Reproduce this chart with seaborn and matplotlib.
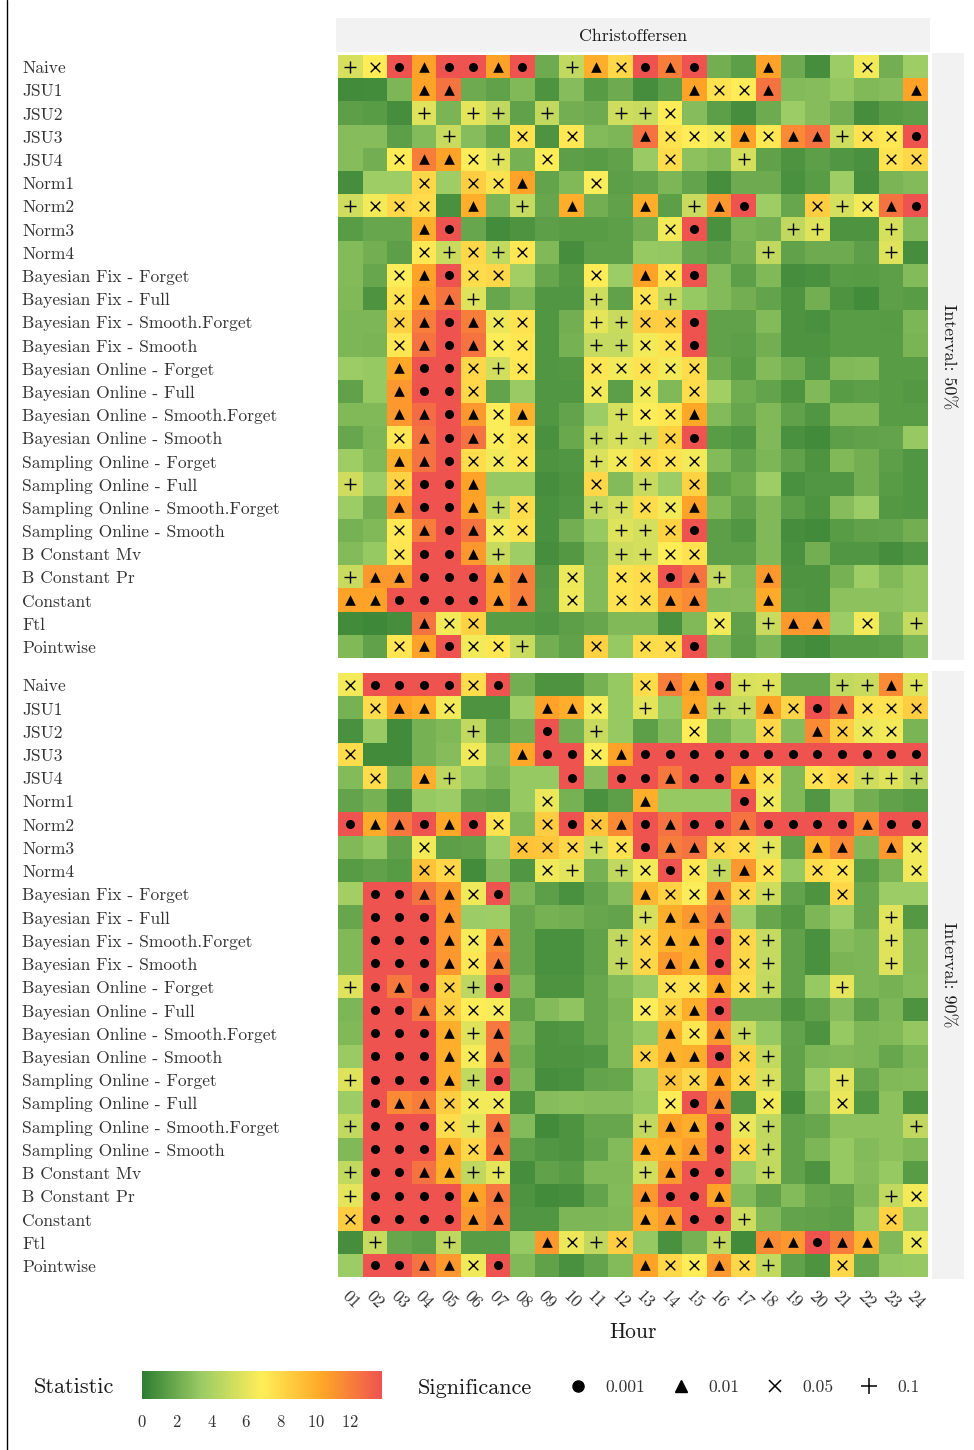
import numpy as np
import pandas as pd
import matplotlib
matplotlib.use("Agg")
import matplotlib.pyplot as plt
import seaborn as sns
from matplotlib.colors import LinearSegmentedColormap, Normalize
from matplotlib.lines import Line2D
from matplotlib.transforms import ScaledTranslation
import matplotlib.cm as cm

sns.set_style("white")
plt.rcParams['font.family'] = ['cmr10', 'DejaVu Serif']
plt.rcParams['axes.unicode_minus'] = False
plt.rcParams['axes.formatter.use_mathtext'] = True

hours = ["01", "02", "03", "04", "05", "06", "07", "08", "09", "10", "11", "12",
         "13", "14", "15", "16", "17", "18", "19", "20", "21", "22", "23", "24"]
methods = ["Naive", "JSU1", "JSU2", "JSU3", "JSU4", "Norm1", "Norm2", "Norm3", "Norm4",
           "Bayesian Fix - Forget", "Bayesian Fix - Full", "Bayesian Fix - Smooth.Forget",
           "Bayesian Fix - Smooth", "Bayesian Online - Forget", "Bayesian Online - Full",
           "Bayesian Online - Smooth.Forget", "Bayesian Online - Smooth",
           "Sampling Online - Forget", "Sampling Online - Full",
           "Sampling Online - Smooth.Forget", "Sampling Online - Smooth",
           "B Constant Mv", "B Constant Pr", "Constant", "Ftl", "Pointwise"]
sig_levels = ["0.001", "0.01", "0.05", "0.1"]
sig_codes = ["o", "^", "x", "+"]

# Christoffersen statistic, interval 50%
stat50 = [
    [5.5, 7.0, 14, 10.5, 14, 14, 10.5, 14, 2.0, 4.8, 10.0, 8.0, 14, 12.0, 14, 2.2, 1.5, 10.5, 2.0, 0.8, 3.5, 6.5, 2.2, 3.6],
    [0.6, 0.7, 2.5, 10.5, 12.5, 2.0, 1.6, 2.6, 1.0, 2.8, 1.3, 2.0, 0.8, 1.5, 10.5, 7.5, 7.0, 12.5, 2.7, 2.8, 3.2, 2.6, 2.8, 10.5],
    [1.5, 1.4, 0.8, 5.8, 2.4, 6.0, 4.7, 1.6, 4.8, 2.2, 2.0, 5.2, 5.0, 7.0, 2.8, 1.5, 0.8, 2.0, 3.5, 2.8, 2.2, 0.8, 1.3, 1.5],
    [2.8, 2.8, 1.5, 2.7, 5.0, 2.8, 1.7, 7.5, 1.0, 7.2, 2.7, 2.5, 12.5, 7.5, 7.0, 6.5, 10.5, 7.2, 11.5, 12.5, 5.2, 7.5, 7.2, 14],
    [2.8, 2.2, 7.0, 12.0, 10.5, 6.8, 5.8, 2.3, 7.0, 1.5, 1.4, 1.6, 3.4, 7.8, 3.0, 2.6, 5.4, 1.6, 1.0, 1.5, 1.1, 0.9, 7.5, 8.0],
    [0.8, 3.6, 3.6, 8.0, 3.6, 8.5, 7.5, 10.5, 1.7, 2.6, 6.8, 1.5, 1.7, 2.5, 1.7, 0.8, 2.0, 2.0, 0.9, 1.4, 3.6, 0.8, 2.4, 2.7],
    [5.2, 6.5, 8.0, 7.8, 0.9, 10.0, 2.4, 4.9, 1.8, 10.0, 2.2, 1.6, 10.0, 1.5, 5.0, 11.0, 14, 3.6, 1.8, 8.5, 5.4, 6.5, 12.5, 14],
    [1.4, 1.8, 1.8, 10.0, 14, 1.8, 0.7, 1.0, 1.5, 1.4, 1.4, 1.5, 2.2, 6.5, 14, 0.9, 2.4, 2.2, 4.7, 5.8, 1.0, 1.0, 5.5, 2.7],
    [2.7, 2.2, 1.5, 7.2, 5.0, 8.0, 4.8, 7.2, 2.6, 0.8, 1.5, 1.5, 3.3, 3.2, 1.8, 1.5, 2.2, 4.7, 1.6, 2.0, 2.0, 1.5, 5.8, 0.8],
    [2.7, 1.8, 6.8, 10.5, 14, 7.8, 8.0, 3.7, 1.8, 1.2, 7.0, 3.5, 10.5, 7.3, 14, 2.7, 1.5, 2.6, 0.8, 0.9, 1.4, 1.3, 1.5, 2.7],
    [2.6, 1.0, 7.5, 10.8, 12.5, 5.8, 1.8, 2.6, 1.1, 1.1, 5.2, 1.6, 7.5, 4.8, 3.3, 2.7, 2.2, 1.7, 1.0, 2.2, 1.0, 0.6, 1.5, 1.4],
    [2.5, 2.5, 8.3, 12.0, 14, 12.0, 6.3, 7.5, 1.1, 2.2, 6.0, 5.0, 8.5, 8.5, 14, 1.6, 1.6, 2.7, 1.0, 0.9, 1.4, 1.4, 1.3, 2.5],
    [2.5, 2.4, 7.3, 12.5, 14, 12.5, 6.8, 7.3, 1.1, 2.3, 4.9, 4.9, 6.5, 7.5, 14, 1.6, 1.5, 2.2, 1.0, 1.0, 1.4, 1.4, 1.4, 2.4],
    [3.5, 3.3, 10.3, 14, 14, 8.0, 5.3, 7.3, 1.1, 1.2, 7.3, 6.5, 7.5, 6.5, 7.8, 2.1, 1.4, 2.7, 2.1, 1.1, 2.6, 2.7, 1.4, 1.4],
    [1.6, 3.3, 11.0, 14, 14, 8.0, 1.7, 3.4, 1.1, 1.1, 6.5, 1.5, 6.4, 2.6, 7.8, 3.7, 2.1, 1.7, 1.0, 2.6, 1.4, 1.5, 1.4, 1.2],
    [2.6, 2.6, 11.0, 12.8, 14, 11.0, 6.8, 9.8, 1.1, 1.7, 3.5, 5.5, 6.8, 7.3, 10.3, 2.7, 1.8, 2.6, 1.6, 1.1, 2.6, 2.6, 1.4, 1.4],
    [1.8, 2.5, 7.3, 12.5, 14, 12.5, 6.8, 7.5, 0.9, 1.9, 4.8, 5.5, 5.3, 8.3, 14, 1.4, 1.1, 2.6, 0.9, 0.6, 1.5, 1.6, 1.7, 3.3],
    [3.6, 2.6, 10.0, 12.5, 14, 7.8, 6.5, 7.3, 1.0, 1.1, 5.6, 6.5, 7.8, 7.5, 6.5, 2.7, 1.7, 2.5, 1.6, 1.0, 2.6, 2.2, 1.5, 1.1],
    [5.2, 3.5, 8.3, 14, 14, 10.5, 3.3, 3.3, 0.8, 1.0, 8.0, 2.7, 5.0, 3.5, 8.3, 1.6, 2.1, 3.6, 0.9, 1.1, 1.1, 2.2, 1.4, 1.1],
    [3.5, 2.2, 11.0, 14, 14, 10.5, 4.8, 7.8, 0.9, 1.1, 4.7, 5.4, 7.8, 6.5, 10.5, 2.6, 1.6, 2.6, 1.5, 1.0, 2.8, 3.5, 1.2, 1.1],
    [2.3, 2.6, 7.2, 12.0, 14, 12.5, 6.5, 7.5, 0.9, 2.2, 3.3, 5.8, 5.4, 8.3, 14, 1.5, 1.1, 2.6, 0.8, 0.6, 1.4, 1.6, 1.7, 2.2],
    [2.7, 3.3, 7.3, 14, 14, 11.0, 5.0, 3.6, 0.8, 1.2, 2.6, 5.2, 5.4, 7.0, 7.5, 1.5, 1.5, 2.6, 0.9, 2.2, 1.1, 1.1, 0.8, 1.1],
    [5.0, 11.0, 11.0, 14, 14, 14, 11.0, 12.0, 1.2, 6.3, 2.7, 7.5, 7.8, 14, 12.5, 4.7, 2.6, 11.0, 1.0, 1.0, 2.3, 3.6, 2.6, 3.2],
    [10.5, 10.5, 14, 14, 14, 14, 11.0, 12.0, 1.3, 6.4, 2.7, 7.5, 7.8, 11.0, 11.5, 2.7, 2.8, 10.2, 1.1, 1.0, 3.0, 3.0, 3.0, 3.2],
    [0.6, 0.5, 0.8, 12.5, 6.5, 8.3, 1.4, 1.4, 1.1, 1.5, 1.8, 2.6, 2.6, 0.9, 2.6, 6.5, 1.6, 5.0, 11.0, 11.0, 3.5, 6.5, 2.6, 4.9],
    [2.6, 1.6, 7.3, 10.5, 14, 6.5, 7.3, 5.0, 2.2, 1.6, 8.3, 3.3, 7.8, 7.8, 14, 2.6, 1.5, 2.5, 0.9, 0.7, 1.4, 1.4, 1.5, 2.5],
]
sig50 = [
    "+xo^oo^o.+^x" "o^o..^...x..",
    "...^^......." "..^xx^.....^",
    "...+.++.+..+" "+x..........",
    "....+..x.x.." "^xxx^x^^+xxo",
    "..x^^x+.x..." ".x..+.....xx",
    "...x.xx^..x." "............",
    "+xxx.^.+.^.." "^.+^o..x+x^o",
    "...^o......." ".xo...++..+.",
    "...x+x+x...." ".....+....+.",
    "..x^oxx...x." "^xo.........",
    "..x^^+....+." "x+..........",
    "..x^o^xx..++" "xxo.........",
    "..x^o^xx..++" "xxo.........",
    "..^oox+x..xx" "xxx.........",
    "..^oox....x." "x.x.........",
    "..^^o^x^...+" "xx^.........",
    "..x^o^xx..++" "+xo.........",
    "..^^oxxx..+x" "xxx.........",
    "+.xoo^....x." "+.x.........",
    "..^oo^+x..++" "xx^.........",
    "..x^o^xx...+" "+xo.........",
    "..xoo^+....+" "+xx.........",
    "+^^ooo^^.x.x" "xo^+.^......",
    "^^oooo^^.x.x" "x^^..^......",
    "...^xx......" "...x.+^^.x.+",
    "..x^oxx+..x." "xxo.........",
]

# Christoffersen statistic, interval 90%
stat90 = [
    [6.5, 14, 14, 14, 14, 7.8, 14, 2.2, 1.0, 1.0, 2.3, 3.3, 7.8, 12.0, 10.5, 14, 5.6, 5.8, 1.8, 1.8, 4.8, 5.0, 11.5, 5.8],
    [2.3, 7.8, 10.5, 10.0, 6.5, 1.0, 1.0, 3.6, 10.5, 10.0, 6.6, 3.3, 6.0, 3.3, 10.3, 4.7, 5.0, 10.5, 8.2, 14, 12.5, 7.5, 7.5, 8.5],
    [0.9, 3.4, 0.6, 2.3, 2.6, 4.8, 1.5, 2.2, 14, 2.2, 5.0, 3.3, 1.5, 2.7, 7.0, 2.3, 3.3, 8.0, 2.8, 11.5, 8.5, 6.3, 6.5, 2.4],
    [7.8, 0.6, 0.6, 2.3, 2.8, 6.4, 2.8, 10.3, 14, 14, 6.8, 10.5, 14, 14, 14, 14, 14, 14, 14, 14, 14, 14, 14, 14],
    [2.7, 7.8, 2.3, 10.0, 4.6, 3.3, 2.5, 3.3, 3.3, 14, 2.8, 14, 14, 12.3, 14, 14, 10.3, 7.5, 2.6, 7.5, 8.0, 5.2, 5.8, 4.6],
    [1.7, 2.3, 0.8, 3.3, 3.5, 1.7, 1.5, 3.3, 6.3, 2.3, 0.9, 1.5, 10.0, 3.3, 3.3, 3.3, 14, 6.4, 2.6, 1.1, 3.5, 2.2, 1.6, 1.4],
    [14, 10.2, 12.3, 14, 10.3, 14, 7.5, 2.6, 8.5, 14, 8.8, 11.5, 14, 12.5, 14, 14, 12.5, 14, 14, 14, 14, 11.5, 14, 14],
    [2.6, 3.2, 1.6, 6.5, 1.5, 1.6, 3.5, 9.0, 8.8, 8.0, 5.2, 7.5, 14, 12.0, 12.5, 8.0, 7.8, 6.0, 1.6, 10.0, 11.5, 2.6, 11.0, 6.5],
    [1.3, 1.6, 1.3, 9.0, 8.0, 0.7, 2.7, 1.1, 6.4, 5.9, 2.3, 4.7, 6.5, 14, 7.3, 4.8, 11.0, 7.5, 3.3, 7.8, 7.5, 1.4, 2.4, 6.4],
    [3.7, 14, 14, 12.5, 11.0, 6.4, 14, 2.5, 1.5, 0.9, 1.7, 2.8, 9.6, 8.3, 6.8, 11.5, 8.0, 5.2, 1.7, 1.0, 8.0, 1.8, 3.5, 3.5],
    [1.8, 14, 14, 14, 11.0, 3.5, 3.6, 1.8, 2.3, 2.2, 1.8, 1.7, 5.5, 10.0, 11.0, 12.3, 3.6, 1.8, 1.2, 2.5, 3.5, 1.8, 5.9, 1.2],
    [2.6, 14, 14, 14, 11.0, 6.6, 11.5, 1.8, 0.9, 0.9, 1.6, 4.7, 8.0, 9.8, 10.0, 14, 8.0, 4.9, 1.6, 0.9, 2.8, 2.5, 5.8, 2.6],
    [2.6, 14, 14, 14, 11.0, 7.3, 12.0, 1.8, 0.9, 0.9, 1.6, 4.7, 8.0, 11.0, 10.0, 14, 8.0, 4.9, 1.6, 0.9, 2.4, 2.5, 5.8, 2.6],
    [5.8, 14, 12.3, 14, 8.3, 4.6, 14, 2.5, 1.0, 1.0, 1.8, 2.7, 3.4, 7.5, 7.5, 10.3, 7.8, 4.8, 1.6, 3.3, 6.0, 2.5, 2.3, 2.7],
    [2.5, 14, 14, 12.3, 8.5, 7.0, 6.6, 1.6, 2.7, 3.1, 1.8, 2.5, 6.8, 8.3, 10.0, 14, 2.2, 2.2, 1.0, 1.6, 2.8, 1.5, 2.5, 1.0],
    [2.6, 14, 14, 14, 10.0, 5.8, 12.3, 2.5, 1.0, 1.1, 1.8, 2.6, 3.3, 9.8, 7.3, 11.0, 5.0, 3.3, 1.7, 1.0, 3.3, 2.5, 2.6, 3.2],
    [3.4, 14, 14, 14, 10.0, 6.6, 12.3, 2.1, 1.0, 1.0, 1.1, 2.6, 8.3, 9.8, 10.0, 14, 8.3, 4.8, 1.6, 2.5, 2.6, 2.5, 1.8, 2.5],
    [5.8, 14, 14, 14, 10.0, 4.8, 14, 2.5, 0.8, 0.9, 1.7, 1.8, 3.5, 9.0, 8.0, 10.5, 8.0, 5.5, 1.6, 3.4, 5.9, 1.8, 2.6, 2.7],
    [3.5, 14, 11.5, 12.0, 8.5, 6.5, 6.5, 1.0, 2.8, 2.9, 2.8, 2.8, 3.3, 7.0, 14, 11.5, 1.1, 6.5, 0.8, 2.8, 6.2, 1.1, 3.0, 1.0],
    [4.8, 14, 14, 14, 7.8, 6.0, 12.5, 2.7, 0.6, 1.0, 1.8, 1.8, 4.8, 10.5, 10.0, 14, 6.2, 4.7, 1.6, 1.8, 3.0, 3.0, 3.0, 4.7],
    [2.6, 14, 14, 14, 10.0, 8.0, 12.3, 1.5, 1.1, 1.0, 1.7, 2.7, 9.8, 10.0, 10.8, 14, 8.0, 4.8, 1.6, 2.5, 3.3, 2.7, 3.0, 2.6],
    [4.8, 14, 14, 12.5, 10.0, 4.7, 6.0, 0.8, 1.6, 1.4, 2.6, 2.6, 5.3, 10.8, 14, 14, 3.5, 4.8, 1.6, 1.0, 3.3, 2.8, 3.3, 1.4],
    [6.0, 14, 14, 14, 14, 10.5, 12.3, 1.0, 0.6, 0.8, 1.7, 2.7, 11.0, 14, 14, 10.5, 2.7, 1.6, 2.7, 1.8, 1.6, 2.6, 4.8, 6.5],
    [8.5, 14, 14, 14, 14, 11.0, 12.0, 1.1, 1.1, 2.5, 2.5, 2.6, 10.0, 11.0, 14, 14, 5.2, 2.6, 1.7, 1.6, 1.5, 3.3, 8.3, 3.3],
    [0.8, 5.0, 1.8, 1.5, 4.7, 1.4, 1.4, 3.3, 11.0, 6.3, 4.7, 8.5, 3.3, 0.9, 2.3, 4.7, 0.6, 11.5, 11.0, 14, 12.0, 9.8, 2.6, 6.4],
    [3.5, 14, 14, 12.5, 11.0, 6.4, 14, 2.6, 1.6, 0.9, 1.7, 2.7, 10.5, 8.0, 7.0, 11.0, 8.0, 4.8, 1.6, 1.0, 8.0, 1.8, 3.2, 3.3],
]
sig90 = [
    "xooooxo....." "x^^o++..++^+",
    ".x^^x...^^x." "+.^++^xo^xxx",
    ".....+..o.+." "..x..x.^xxx.",
    "x....x.^oox^" "oooooooooooo",
    ".x.^+....o.o" "o^oo^x.xx+++",
    "........x..." "^...ox......",
    "o^^o^ox.xox^" "o^oo^oooo^oo",
    "...x...xxx+x" "o^^xx+.^^.^x",
    "...xx...x+.+" "xox+^x.xx..x",
    ".oo^^xo....." "^xx^x+..x...",
    ".ooo^......." "+^^^......+.",
    ".ooo^x^....+" "x^^ox+....+.",
    ".ooo^x^....+" "x^^ox+....+.",
    "+o^ox+o....." ".xx^x+..+...",
    ".oo^xxx....." "xx^o........",
    ".ooo^+^....." ".^x^+.......",
    ".ooo^x^....." "x^^ox+......",
    "+ooo^+o....." ".xx^x+..+...",
    ".o^^xxx....." ".xo^.x..x...",
    "+ooox+^....." "+^^ox+.....+",
    ".ooo^x^....." "^^^ox+......",
    "+oo^^++....." "+^oo.+......",
    "+oooo^^....." "^oo^......+x",
    "xoooo^^....." "^^oo+.....x.",
    ".+..+...^x+x" "...+.^^o^^.x",
    ".oo^^xo....." "^xx^x+..x...",
]

VMAX = 13.82
cmap = LinearSegmentedColormap.from_list(
    "stat", ["#2E7D32", "#9CCC65", "#FFEE58", "#FFA726", "#EF5350"])
marker_style = {
    "o": dict(marker="o", s=42, linewidths=0),
    "^": dict(marker="^", s=58, linewidths=0),
    "x": dict(marker="x", s=48, linewidths=1.0),
    "+": dict(marker="+", s=85, linewidths=1.0),
}

W, H = 974, 1450
fig = plt.figure(figsize=(W / 100, H / 100), dpi=100)
label_shift = ScaledTranslation(0, -2 / 100, fig.dpi_scale_trans)

panel_x0, panel_x1 = 338, 928
panels = [(55, 658, stat50, sig50, "Interval: 50%"),
          (673, 1277, stat90, sig90, "Interval: 90%")]

for k, (top, bottom, stat, sig, lab) in enumerate(panels):
    ax = fig.add_axes([panel_x0 / W, 1 - bottom / H,
                       (panel_x1 - panel_x0) / W, (bottom - top) / H])
    df = pd.DataFrame(stat, index=methods, columns=hours)
    sns.heatmap(df, ax=ax, cmap=cmap, vmin=0, vmax=VMAX, cbar=False,
                xticklabels=(k == 1), yticklabels=True)
    for code in sig_codes:
        cells = [(c + 0.5, r + 0.5) for r, row in enumerate(sig)
                 for c, ch in enumerate(row) if ch == code]
        if cells:
            xs, ys = zip(*cells)
            ax.scatter(xs, ys, color="black", zorder=3, **marker_style[code])
    ax.set_xlabel("")
    ax.set_ylabel("")
    ax.tick_params(axis="both", length=0)
    ax.tick_params(axis="y", pad=(panel_x0 - 22) * 0.72)
    ax.set_yticklabels(methods, rotation=0, ha="left", va="center",
                       fontsize=12.6, color="#333333")
    for t in ax.get_yticklabels():
        t.set_transform(t.get_transform() + label_shift)
    if k == 1:
        ax.set_xticklabels(hours, rotation=-45, ha="center", va="top",
                           fontsize=12.5, color="#333333")
        ax.tick_params(axis="x", pad=8)
        ax.set_xlabel("Hour", fontsize=15.5, color="#1a1a1a", labelpad=8)

    # facet strip on the right
    sax = fig.add_axes([932 / W, 1 - (bottom + 2) / H, 32 / W, (bottom - top + 4) / H])
    sax.set_facecolor("#f2f2f2")
    sax.set_xticks([])
    sax.set_yticks([])
    for sp in sax.spines.values():
        sp.set_visible(False)
    sax.text(0.5, 0.5, lab, rotation=270, ha="center", va="center",
             fontsize=12.9, color="#1a1a1a", transform=sax.transAxes)

# top facet strip
tax = fig.add_axes([336 / W, 1 - 52 / H, 594 / W, 34 / H])
tax.set_facecolor("#f2f2f2")
tax.set_xticks([])
tax.set_yticks([])
for sp in tax.spines.values():
    sp.set_visible(False)
tax.text(0.5, 0.45, "Christoffersen", ha="center", va="center",
         fontsize=12.8, color="#1a1a1a", transform=tax.transAxes)

# colour bar legend
fig.text(34 / W, 1 - 1387 / H, "Statistic", ha="left", va="center",
         fontsize=16, color="#1a1a1a")
cax = fig.add_axes([142 / W, 1 - 1399 / H, 240 / W, 28 / H])
sm = cm.ScalarMappable(norm=Normalize(0, VMAX), cmap=cmap)
cb = fig.colorbar(sm, cax=cax, orientation="horizontal", ticks=[0, 2, 4, 6, 8, 10, 12])
cb.outline.set_visible(False)
cax.tick_params(axis="x", direction="in", color="white", length=5, width=0.8,
                top=True, bottom=True, labelsize=12, labelcolor="#333333", pad=11)

# significance legend
fig.text(418 / W, 1 - 1388 / H, "Significance", ha="left", va="center",
         fontsize=16, color="#1a1a1a")
handles = [
    Line2D([], [], linestyle="none", marker="o", color="black", markersize=8),
    Line2D([], [], linestyle="none", marker="^", color="black", markersize=9),
    Line2D([], [], linestyle="none", marker="x", color="black", markersize=9, markeredgewidth=1.1),
    Line2D([], [], linestyle="none", marker="+", color="black", markersize=11, markeredgewidth=1.1),
]
fig.legend(handles, sig_levels, loc="center left",
           bbox_to_anchor=(569 / W, 1 - 1387 / H), ncol=4, frameon=False,
           fontsize=12.6, handlelength=1.0, handletextpad=1.1, columnspacing=1.5,
           borderpad=0, borderaxespad=0, labelcolor="#333333")

# left border line
fig.add_artist(Line2D([7 / W, 7 / W], [0, 1], transform=fig.transFigure,
                      color="black", linewidth=1.0))

fig.savefig("out.png", dpi=100)
